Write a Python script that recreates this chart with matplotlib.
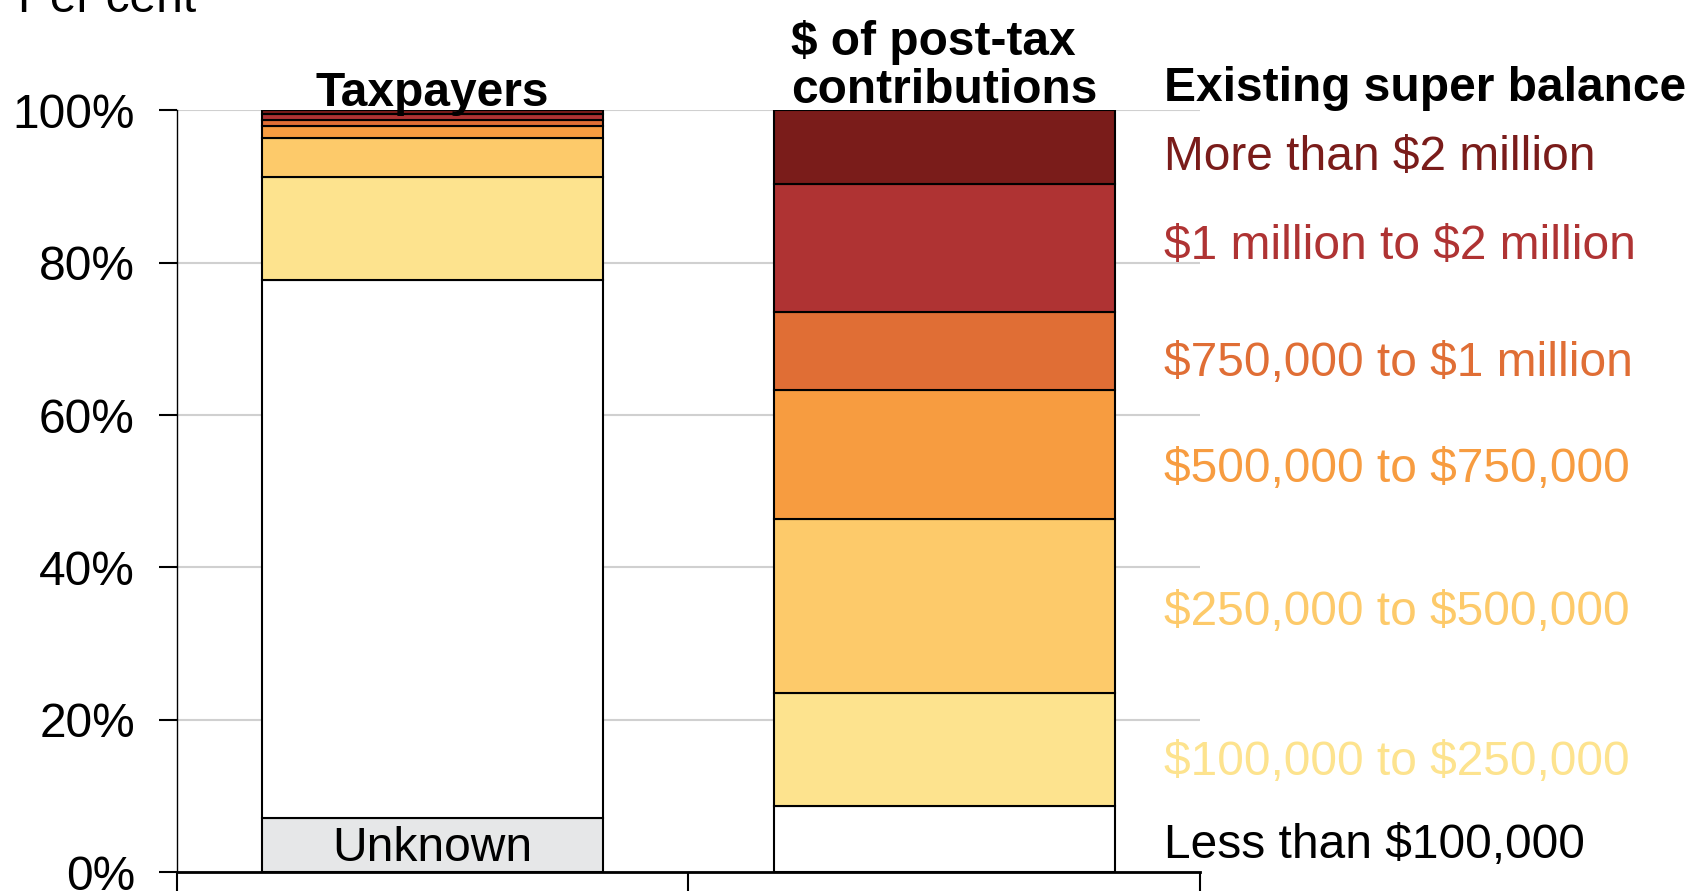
import matplotlib
matplotlib.use("Agg")
import matplotlib.pyplot as plt
import numpy as np

plt.rcParams["font.family"] = ["Liberation Sans", "DejaVu Sans"]
plt.rcParams["text.parse_math"] = False

# ── Data (per cent, bottom to top) ───────────────────────────
categories = ["Taxpayers", "$ of post-tax\ncontributions"]
segments = ["Unknown", "Less than $100,000", "$100,000 to $250,000",
            "$250,000 to $500,000", "$500,000 to $750,000",
            "$750,000 to $1 million", "$1 million to $2 million",
            "More than $2 million"]
taxpayers     = [7.1, 70.7, 13.4, 5.15, 1.65, 0.75, 0.8, 0.45]
contributions = [0.0, 8.7, 14.8, 22.9, 16.9, 10.2, 16.9, 9.6]
label_y = [None, 3.5, 14.4, 34.1, 52.8, 66.8, 82.1, 93.8]

colors = ["#E6E7E8", "#FFFFFF", "#FDE38E", "#FDCA6A", "#F79C40",
          "#E06E35", "#AF3333", "#7A1C1A"]
text_colors = [None, "black", "#FDE38E", "#FDCA6A", "#F79C40",
               "#E06E35", "#AF3333", "#7A1C1A"]

FS = 34.5

fig = plt.figure(figsize=(16.98, 8.91), dpi=100)
ax = fig.add_axes([0.104, 0.0213, 0.6027, 0.8547])

x = np.array([0.5, 1.5])
bottoms = np.zeros(2)
for i, seg in enumerate(segments):
    vals = np.array([taxpayers[i], contributions[i]])
    ax.bar(x, vals, width=2 / 3, bottom=bottoms, color=colors[i],
           edgecolor="black", linewidth=1.5, zorder=3)
    bottoms += vals

# Unknown label inside left bar
ax.text(0.5, taxpayers[0] / 2 - 0.5, "Unknown", ha="center", va="center",
        fontsize=FS, zorder=4)

# Category titles
ax.text(0.5, 100.6, categories[0], ha="center", va="baseline",
        fontsize=FS, fontweight="bold")
ax.text(1.5, 101.0, categories[1], ha="center", va="baseline",
        multialignment="left", fontsize=FS, fontweight="bold",
        linespacing=1.08)

# Legend labels on the right
lx = 1.93
ax.text(lx, 101.3, "Existing super balance", ha="left", va="baseline",
        fontsize=FS, fontweight="bold", clip_on=False)
for i in range(1, len(segments)):
    ax.text(lx, label_y[i], segments[i], ha="left", va="center",
            fontsize=FS, color=text_colors[i], clip_on=False, zorder=5)

# Axes styling
ax.set_xlim(0, 2)
ax.set_ylim(0, 100)
ax.set_yticks(np.arange(0, 101, 20))
ax.set_yticklabels([f"{v}%" for v in range(0, 101, 20)], fontsize=FS)
ax.yaxis.grid(True, color="#D0D0D0", linewidth=1.5, zorder=0)
ax.set_axisbelow(True)
ax.set_xticks([0, 1, 2])
ax.set_xticklabels([])
ax.tick_params(axis="x", direction="out", length=25, width=1.5)
ax.tick_params(axis="y", direction="out", length=13, width=1.5, pad=17)
for s in ["top", "right"]:
    ax.spines[s].set_visible(False)
ax.spines["left"].set_linewidth(1.0)
ax.spines["bottom"].set_linewidth(2.0)

fig.text(18 / 1698, 1 - 12 / 891, "Per cent", ha="left", va="baseline",
         fontsize=FS)

fig.savefig("out.png", dpi=100)
